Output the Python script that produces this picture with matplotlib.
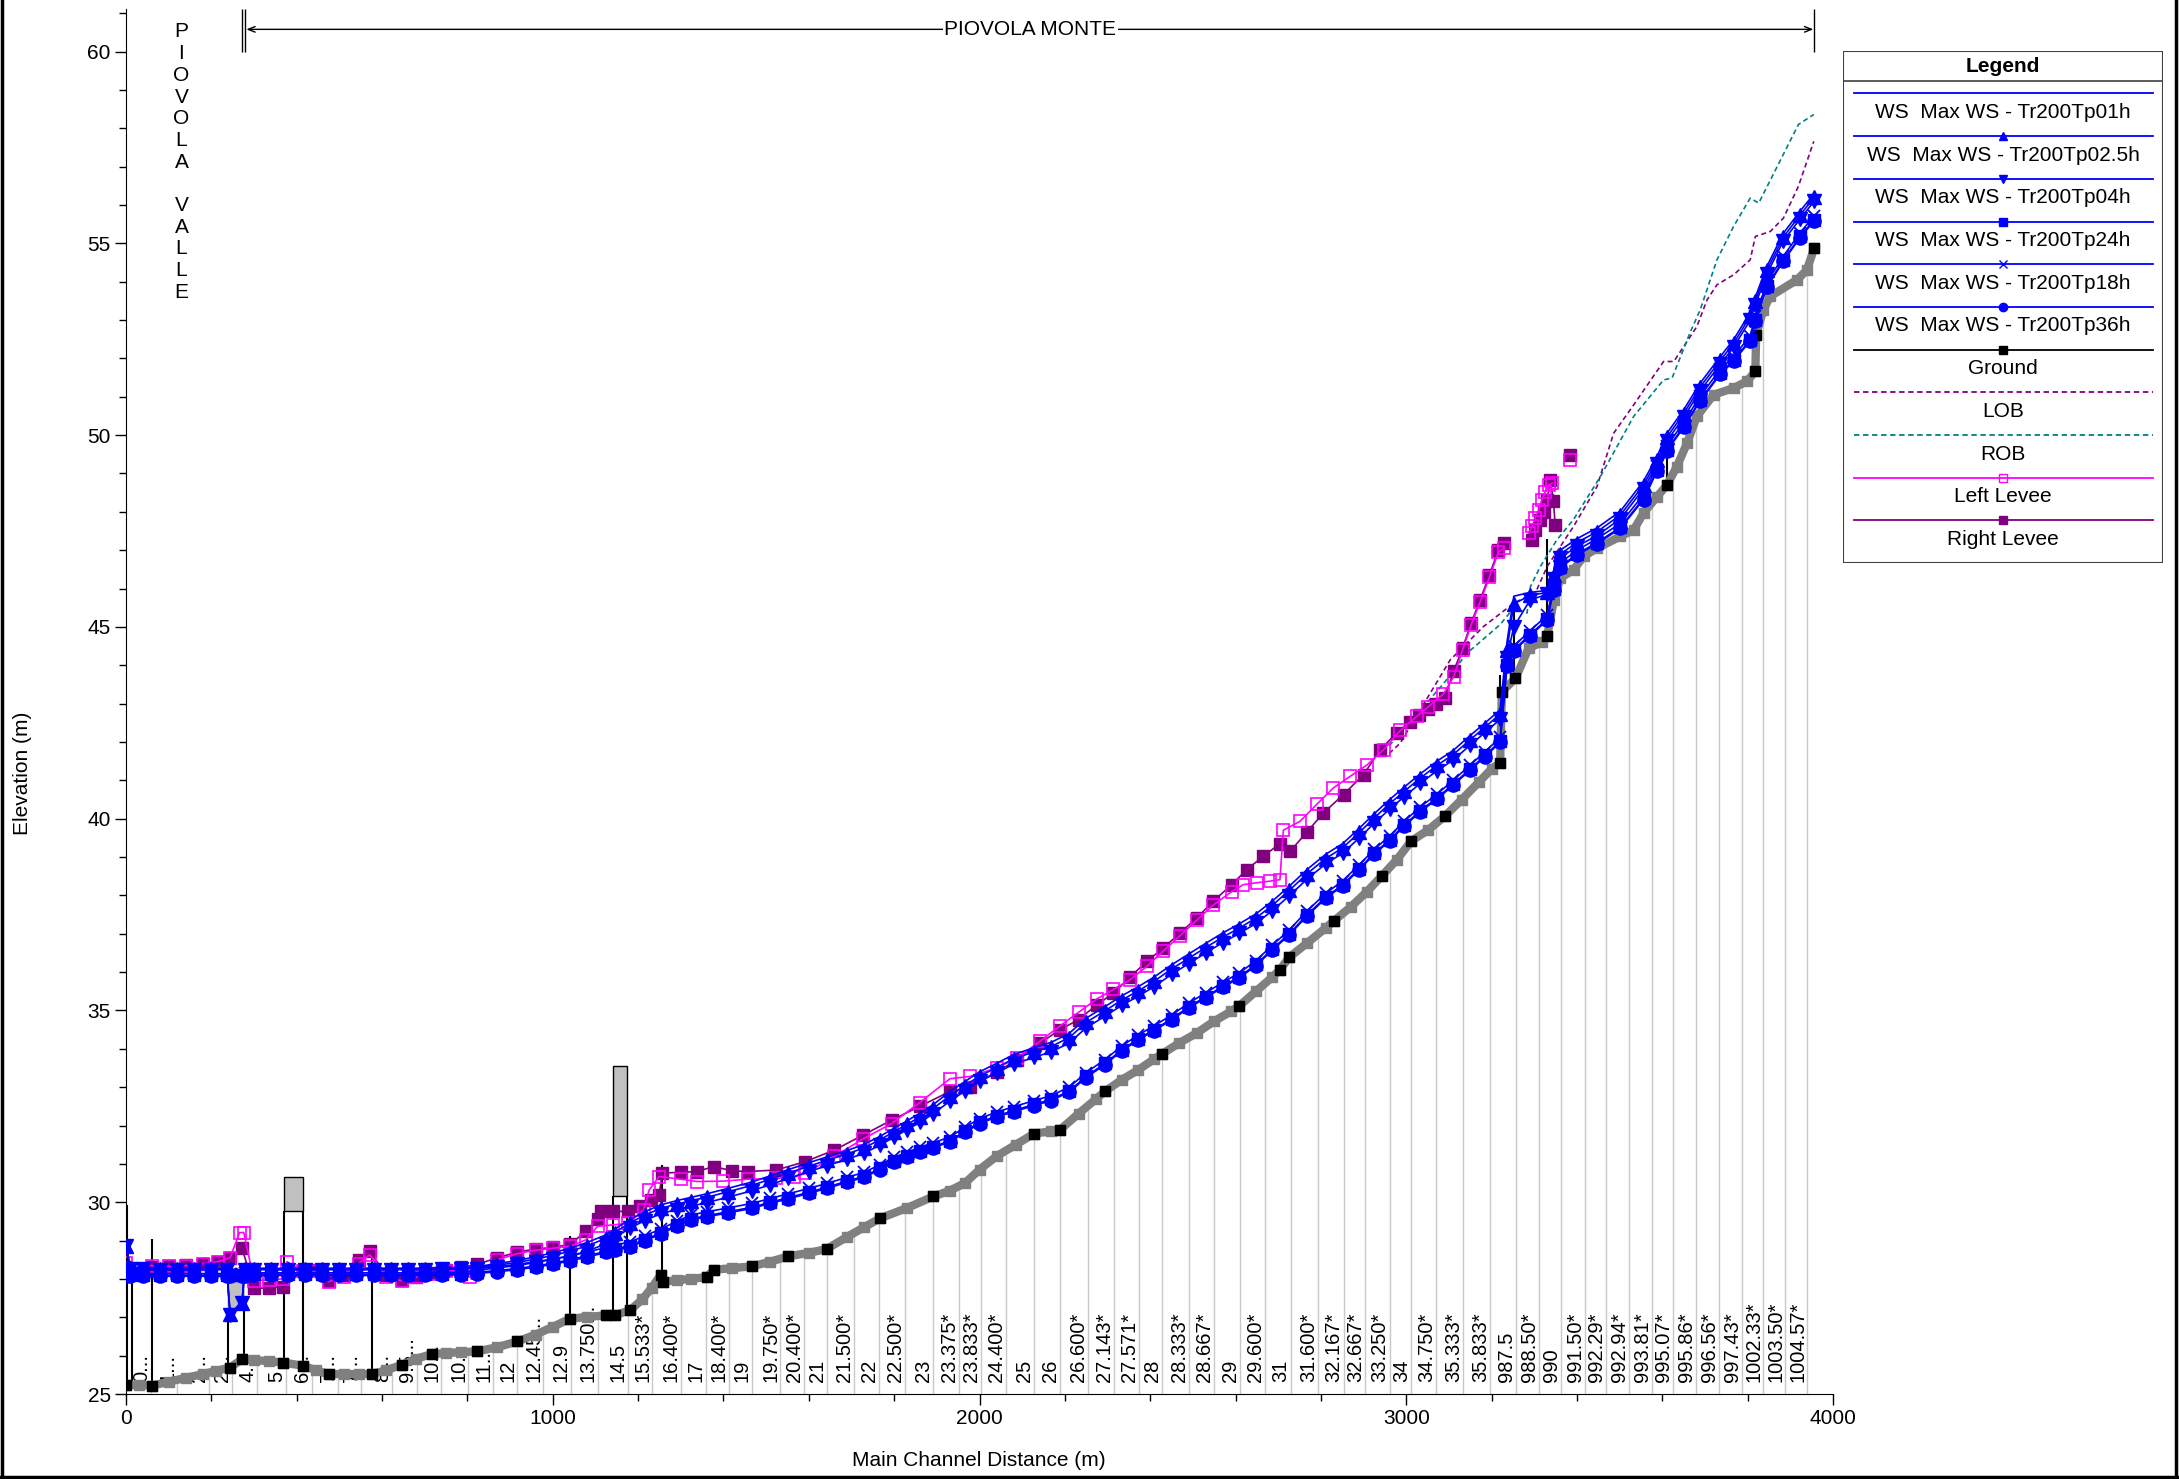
import numpy as np
import matplotlib.pyplot as plt
from matplotlib.patches import Rectangle
from matplotlib.lines import Line2D
from matplotlib.ticker import MultipleLocator

plt.rcParams['font.family'] = ['Liberation Sans', 'DejaVu Sans']

nan = np.nan

# ---- river stations shown under the profile ----
xs_names = ["0...", "1...", "2...", "2...", "4...", "5", "6...", "7...", "7...", "8...",
            "9.5...", "10...", "10...", "11...", "12", "12.45...", "12.9", "13.750...", "14.5", "15.533*",
            "16.400*", "17", "18.400*", "19", "19.750*", "20.400*", "21", "21.500*", "22", "22.500*",
            "23", "23.375*", "23.833*", "24.400*", "25", "26", "26.600*", "27.143*", "27.571*", "28",
            "28.333*", "28.667*", "29", "29.600*", "31", "31.600*", "32.167*", "32.667*", "33.250*", "34",
            "34.750*", "35.333*", "35.833*", "987.5", "988.50*", "990", "991.50*", "992.29*", "992.94*", "993.81*",
            "995.07*", "995.86*", "996.56*", "997.43*", "1002.33*", "1003.50*", "1004.57*"]
xs_pos = [59, 120, 194, 248, 308, 375, 436, 497, 550, 624,
          682, 739, 802, 860, 917, 978, 1042, 1105, 1176, 1233,
          1300, 1358, 1412, 1466, 1533, 1589, 1643, 1705, 1764, 1825,
          1892, 1952, 2003, 2063, 2128, 2188, 2254, 2315, 2373, 2427,
          2490, 2550, 2611, 2669, 2729, 2793, 2853, 2904, 2961, 3012,
          3070, 3133, 3197, 3257, 3311, 3362, 3419, 3468, 3522, 3576,
          3626, 3679, 3733, 3786, 3836, 3888, 3940]

# ---- ground (channel invert) ----
ground_x = [0, 30, 62, 100, 140, 180, 210, 244, 272, 300,
            335, 367, 414, 445, 475, 510, 545, 576, 610, 646,
            680, 717, 750, 785, 822, 870, 917, 960, 1000, 1040,
            1080, 1125, 1145, 1182, 1210, 1232, 1253, 1258, 1290, 1325,
            1361, 1377, 1420, 1467, 1510, 1552, 1600, 1642, 1690, 1730,
            1767, 1830, 1892, 1930, 1966, 2000, 2040, 2085, 2128, 2168,
            2189, 2232, 2273, 2294, 2333, 2372, 2409, 2427, 2468, 2509,
            2550, 2590, 2609, 2648, 2686, 2704, 2726, 2768, 2811, 2831,
            2871, 2908, 2943, 2978, 3011, 3052, 3090, 3130, 3170, 3200,
            3220, 3224, 3256, 3287, 3318, 3330, 3346, 3361, 3392, 3416,
            3447, 3502, 3533, 3556, 3588, 3611, 3634, 3658, 3681, 3720,
            3767, 3798, 3818, 3820, 3837, 3853, 3916, 3939, 3956]
ground_y = [25.23, 25.24, 25.22, 25.32, 25.42, 25.52, 25.60, 25.69, 25.91, 25.88,
            25.86, 25.82, 25.74, 25.62, 25.52, 25.52, 25.52, 25.52, 25.62, 25.76,
            25.92, 26.04, 26.07, 26.09, 26.11, 26.22, 26.37, 26.55, 26.75, 26.96,
            27.01, 27.05, 27.05, 27.19, 27.47, 27.77, 28.11, 27.92, 27.97, 28.00,
            28.05, 28.24, 28.28, 28.33, 28.45, 28.59, 28.68, 28.78, 29.10, 29.35,
            29.58, 29.85, 30.15, 30.30, 30.50, 30.85, 31.20, 31.50, 31.79, 31.85,
            31.89, 32.31, 32.69, 32.89, 33.19, 33.45, 33.73, 33.86, 34.15, 34.41,
            34.72, 34.98, 35.12, 35.50, 35.87, 36.06, 36.39, 36.76, 37.15, 37.34,
            37.71, 38.10, 38.51, 38.93, 39.41, 39.71, 40.06, 40.50, 40.95, 41.30,
            41.45, 43.31, 43.66, 44.45, 44.60, 44.75, 45.70, 46.27, 46.49, 46.84,
            47.05, 47.36, 47.53, 47.97, 48.40, 48.70, 49.18, 49.79, 50.49, 51.05,
            51.23, 51.40, 51.66, 52.62, 53.27, 53.62, 54.05, 54.31, 54.88]
ground_b = [1, 0, 1, 0, 0, 0, 0, 1, 1, 0,
            0, 1, 1, 0, 1, 0, 0, 1, 0, 1,
            0, 1, 0, 0, 1, 0, 1, 0, 0, 1,
            0, 1, 1, 1, 0, 0, 1, 1, 0, 0,
            1, 1, 0, 1, 0, 1, 0, 1, 0, 0,
            1, 0, 1, 0, 0, 0, 0, 0, 1, 0,
            1, 0, 0, 1, 0, 0, 0, 1, 0, 0,
            0, 0, 1, 0, 0, 1, 1, 0, 0, 1,
            0, 0, 1, 0, 1, 0, 1, 0, 0, 0,
            1, 1, 1, 0, 0, 1, 0, 0, 0, 0,
            0, 0, 0, 0, 0, 1, 0, 0, 0, 0,
            0, 0, 1, 1, 0, 0, 0, 0, 1]

# ---- water surface profiles ----
ws_x = [0, 10, 40, 80, 120, 160, 200, 236, 244, 272,
        278, 300, 340, 380, 420, 460, 500, 540, 580, 620,
        660, 700, 740, 785, 822, 870, 917, 960, 1000, 1040,
        1080, 1125, 1145, 1182, 1215, 1253, 1290, 1325, 1361, 1410,
        1467, 1510, 1552, 1600, 1642, 1690, 1730, 1767, 1800, 1830,
        1860, 1892, 1930, 1966, 2000, 2040, 2080, 2128, 2168, 2210,
        2250, 2294, 2333, 2372, 2409, 2450, 2490, 2530, 2570, 2609,
        2648, 2686, 2726, 2768, 2811, 2851, 2890, 2925, 2961, 2995,
        3033, 3072, 3110, 3150, 3185, 3220, 3236, 3252, 3290, 3330,
        3346, 3361, 3400, 3447, 3502, 3556, 3588, 3611, 3650, 3689,
        3736, 3767, 3806, 3818, 3845, 3884, 3923, 3956]
ws_tp01 = [28.90, 28.30, 28.29, 28.28, 28.28, 28.28, 28.28, 28.28, 27.10, 27.40,
           28.28, 28.28, 28.28, 28.27, 28.28, 28.28, 28.28, 28.28, 28.28, 28.28,
           28.28, 28.28, 28.29, 28.30, 28.32, 28.40, 28.48, 28.58, 28.68, 28.80,
           28.95, 29.15, 29.30, 29.56, 29.75, 29.93, 30.04, 30.13, 30.22, 30.36,
           30.53, 30.69, 30.85, 31.03, 31.18, 31.35, 31.51, 31.72, 31.93, 32.12,
           32.32, 32.55, 32.88, 33.15, 33.40, 33.62, 33.85, 34.03, 34.17, 34.40,
           34.80, 35.10, 35.38, 35.62, 35.87, 36.19, 36.47, 36.75, 37.02, 37.26,
           37.52, 37.85, 38.24, 38.68, 39.07, 39.35, 39.75, 40.13, 40.50, 40.82,
           41.17, 41.50, 41.78, 42.17, 42.50, 42.84, 44.60, 45.80, 45.90, 45.95,
           46.45, 47.00, 47.30, 47.58, 48.02, 48.80, 49.45, 50.05, 50.66, 51.36,
           52.05, 52.49, 53.20, 53.60, 54.40, 55.27, 55.84, 56.30]
ws_tp025 = [28.87, 28.28, 28.27, 28.26, 28.26, 28.26, 28.26, 28.26, 27.08, 27.38,
            28.26, 28.26, 28.26, 28.25, 28.26, 28.26, 28.26, 28.26, 28.26, 28.26,
            28.26, 28.26, 28.27, 28.28, 28.29, 28.36, 28.43, 28.52, 28.61, 28.72,
            28.86, 29.06, 29.21, 29.47, 29.66, 29.84, 29.95, 30.04, 30.13, 30.27,
            30.44, 30.60, 30.76, 30.94, 31.09, 31.26, 31.42, 31.63, 31.84, 32.03,
            32.22, 32.45, 32.77, 33.04, 33.29, 33.51, 33.74, 33.92, 34.06, 34.29,
            34.69, 34.99, 35.27, 35.51, 35.76, 36.08, 36.36, 36.64, 36.91, 37.15,
            37.41, 37.74, 38.13, 38.57, 38.96, 39.24, 39.64, 40.02, 40.39, 40.71,
            41.06, 41.39, 41.67, 42.06, 42.39, 42.73, 44.40, 45.60, 45.82, 45.90,
            46.35, 46.90, 47.20, 47.48, 47.92, 48.70, 49.35, 49.95, 50.56, 51.26,
            51.95, 52.39, 53.10, 53.50, 54.30, 55.17, 55.74, 56.20]
ws_tp04 = [28.85, 28.26, 28.25, 28.24, 28.24, 28.24, 28.24, 28.24, 27.06, 27.36,
           28.24, 28.24, 28.24, 28.23, 28.24, 28.24, 28.24, 28.24, 28.24, 28.24,
           28.24, 28.24, 28.25, 28.26, 28.27, 28.32, 28.38, 28.45, 28.52, 28.60,
           28.72, 28.92, 29.07, 29.33, 29.52, 29.70, 29.81, 29.90, 29.99, 30.13,
           30.30, 30.46, 30.62, 30.80, 30.95, 31.12, 31.28, 31.49, 31.70, 31.89,
           32.08, 32.31, 32.63, 32.90, 33.15, 33.37, 33.60, 33.78, 33.92, 34.15,
           34.55, 34.85, 35.13, 35.37, 35.62, 35.94, 36.22, 36.50, 36.77, 37.01,
           37.27, 37.60, 37.99, 38.43, 38.82, 39.10, 39.50, 39.88, 40.25, 40.57,
           40.92, 41.25, 41.53, 41.92, 42.25, 42.59, 44.20, 45.00, 45.70, 45.85,
           46.25, 46.80, 47.10, 47.38, 47.82, 48.60, 49.25, 49.85, 50.46, 51.16,
           51.85, 52.29, 53.00, 53.40, 54.20, 55.07, 55.64, 56.10]
ws_tp24 = [28.10, 28.10, 28.10, 28.10, 28.10, 28.10, 28.10, 28.10, 28.10, 28.10,
           28.11, 28.12, 28.12, 28.12, 28.12, 28.12, 28.12, 28.12, 28.12, 28.12,
           28.12, 28.12, 28.13, 28.14, 28.17, 28.22, 28.27, 28.34, 28.41, 28.50,
           28.60, 28.72, 28.78, 28.87, 29.02, 29.20, 29.40, 29.57, 29.65, 29.75,
           29.87, 30.00, 30.12, 30.26, 30.39, 30.55, 30.68, 30.88, 31.07, 31.20,
           31.33, 31.45, 31.60, 31.85, 32.08, 32.25, 32.39, 32.55, 32.68, 32.90,
           33.28, 33.62, 33.97, 34.26, 34.50, 34.78, 35.09, 35.36, 35.63, 35.88,
           36.20, 36.60, 37.00, 37.50, 37.95, 38.28, 38.70, 39.10, 39.45, 39.83,
           40.21, 40.54, 40.90, 41.30, 41.65, 42.02, 44.00, 44.40, 44.80, 45.20,
           46.00, 46.57, 46.90, 47.20, 47.60, 48.35, 49.10, 49.62, 50.23, 50.92,
           51.62, 51.95, 52.49, 53.00, 53.88, 54.57, 55.18, 55.62]
ws_tp18 = [28.14, 28.14, 28.14, 28.14, 28.14, 28.14, 28.14, 28.14, 28.14, 28.14,
           28.15, 28.16, 28.16, 28.16, 28.16, 28.16, 28.16, 28.16, 28.16, 28.16,
           28.16, 28.16, 28.17, 28.18, 28.22, 28.29, 28.35, 28.43, 28.51, 28.60,
           28.70, 28.82, 28.88, 28.97, 29.12, 29.30, 29.50, 29.67, 29.75, 29.85,
           29.97, 30.10, 30.22, 30.36, 30.49, 30.65, 30.78, 30.98, 31.17, 31.30,
           31.43, 31.55, 31.70, 31.95, 32.18, 32.35, 32.49, 32.65, 32.78, 33.00,
           33.38, 33.72, 34.07, 34.36, 34.60, 34.88, 35.19, 35.46, 35.73, 35.98,
           36.30, 36.70, 37.10, 37.60, 38.05, 38.38, 38.80, 39.20, 39.55, 39.93,
           40.31, 40.64, 41.00, 41.40, 41.75, 42.12, 44.10, 44.50, 44.90, 45.30,
           46.10, 46.67, 47.00, 47.30, 47.70, 48.45, 49.20, 49.72, 50.33, 51.02,
           51.72, 52.05, 52.59, 53.10, 53.98, 54.67, 55.28, 55.72]
ws_tp36 = [28.07, 28.07, 28.07, 28.07, 28.07, 28.07, 28.07, 28.07, 28.07, 28.07,
           28.08, 28.09, 28.09, 28.09, 28.09, 28.09, 28.09, 28.09, 28.09, 28.09,
           28.09, 28.09, 28.10, 28.11, 28.14, 28.19, 28.24, 28.31, 28.38, 28.47,
           28.57, 28.69, 28.75, 28.84, 28.99, 29.17, 29.37, 29.54, 29.62, 29.72,
           29.84, 29.97, 30.09, 30.23, 30.36, 30.52, 30.65, 30.85, 31.04, 31.17,
           31.30, 31.42, 31.57, 31.82, 32.05, 32.22, 32.36, 32.52, 32.65, 32.87,
           33.25, 33.59, 33.94, 34.23, 34.47, 34.75, 35.06, 35.33, 35.60, 35.85,
           36.17, 36.57, 36.97, 37.47, 37.92, 38.25, 38.67, 39.07, 39.42, 39.80,
           40.18, 40.51, 40.87, 41.27, 41.62, 41.99, 43.97, 44.37, 44.77, 45.17,
           45.97, 46.54, 46.87, 47.17, 47.57, 48.32, 49.07, 49.59, 50.20, 50.89,
           51.59, 51.92, 52.46, 52.97, 53.85, 54.54, 55.15, 55.59]

# ---- levees ----
rl_x = [0, 62, 100, 140, 180, 215, 244, 272, 300, 335,
        367, 414, 445, 475, 510, 545, 571, 610, 646, 680,
        717, 750, 785, 822, 870, 917, 960, 1000, 1040, 1078,
        1105, 1114, 1141, 1177, 1204, 1231, 1249, 1257, 1300, 1338,
        1377, 1420, 1457, 1524, 1592, 1660, 1727, 1794, 1860, 1931,
        1978, 2040, 2087, 2142, 2189, 2232, 2275, 2314, 2353, 2392,
        2431, 2470, 2509, 2548, 2591, 2626, 2665, 2704, 2728, 2767,
        2806, 2853, 2900, 2939, 2978, 3009, 3029, 3050, 3070, 3090,
        3111, 3132, 3152, 3173, 3195, 3216, 3228, nan, 3295, 3302,
        3314, 3322, 3330, 3338, 3345, 3349, nan, 3384]
rl_y = [28.30, 28.30, 28.33, 28.36, 28.40, 28.45, 28.55, 28.80, 27.76, 27.76,
        27.80, 28.20, 28.22, 27.95, 28.10, 28.50, 28.72, 28.10, 27.98, 28.06,
        28.15, 28.22, 28.30, 28.38, 28.55, 28.70, 28.78, 28.82, 28.90, 29.24,
        29.55, 29.76, 29.76, 29.76, 29.89, 30.06, 30.19, 30.76, 30.78, 30.80,
        30.93, 30.82, 30.80, 30.84, 31.06, 31.36, 31.75, 32.14, 32.50, 32.89,
        33.00, 33.40, 33.70, 34.15, 34.50, 34.76, 35.15, 35.45, 35.87, 36.28,
        36.63, 37.02, 37.41, 37.85, 38.28, 38.67, 39.02, 39.35, 39.15, 39.65,
        40.15, 40.63, 41.15, 41.80, 42.24, 42.53, 42.70, 42.85, 43.00, 43.14,
        43.84, 44.45, 45.10, 45.70, 46.36, 47.01, 47.20, nan, 47.27, 47.53,
        47.80, 48.00, 48.30, 48.83, 48.27, 47.66, nan, 49.49]
ll_x = [0, 62, 100, 140, 180, 215, 244, 266, 276, 300,
        335, 367, 377, 414, 445, 475, 510, 545, 571, 610,
        646, 680, 717, 750, 785, 805, 822, 870, 917, 960,
        1000, 1040, 1078, 1105, 1141, 1177, 1213, 1226, 1249, 1300,
        1338, 1400, 1457, 1524, 1565, 1592, 1660, 1727, 1794, 1860,
        1931, 1978, 2040, 2087, 2142, 2189, 2232, 2275, 2314, 2353,
        2392, 2431, 2470, 2509, 2548, 2591, 2618, 2650, 2680, 2704,
        2712, 2751, 2790, 2829, 2868, 2908, 2947, 2986, 3025, 3050,
        3087, 3111, 3132, 3152, 3173, 3195, 3216, 3228, nan, 3287,
        3295, 3302, 3310, 3318, 3326, 3334, 3342, nan, 3384]
ll_y = [28.42, 28.35, 28.33, 28.35, 28.40, 28.45, 28.55, 29.21, 29.21, 27.95,
        27.98, 28.00, 28.45, 28.20, 28.20, 27.93, 28.05, 28.40, 28.63, 28.05,
        27.95, 28.05, 28.12, 28.20, 28.25, 28.05, 28.15, 28.50, 28.66, 28.75,
        28.80, 28.85, 29.02, 29.37, 29.41, 29.45, 29.80, 30.32, 30.67, 30.60,
        30.54, 30.55, 30.60, 30.62, 30.65, 30.75, 31.20, 31.65, 32.05, 32.60,
        33.22, 33.28, 33.50, 33.75, 34.20, 34.60, 34.95, 35.30, 35.55, 35.80,
        36.15, 36.55, 36.95, 37.35, 37.75, 38.10, 38.28, 38.33, 38.37, 38.41,
        39.70, 39.93, 40.37, 40.80, 41.10, 41.40, 41.80, 42.30, 42.67, 42.90,
        43.25, 43.70, 44.40, 45.05, 45.65, 46.30, 46.95, 47.05, nan, 47.45,
        47.62, 47.84, 48.05, 48.31, 48.53, 48.70, 48.75, nan, 49.36]

# ---- bank stations ----
lob_x = [2960, 2986, 3103, 3181, 3252, 3300, 3306, 3330, 3392, 3447, 3486, 3533,
         3603, 3627, 3681, 3705, 3728, 3767, 3806, 3818, 3853, 3884, 3919, 3955]
lob_y = [41.70, 41.97, 44.14, 45.01, 45.62, 45.88, 45.97, 46.57, 47.62, 48.66, 50.05, 50.79,
         51.92, 51.92, 52.83, 53.53, 53.92, 54.18, 54.57, 55.18, 55.31, 55.66, 56.49, 57.66]
rob_x = [2960, 2986, 3088, 3142, 3220, 3252, 3283, 3291, 3314, 3353, 3392, 3455,
         3533, 3603, 3623, 3666, 3689, 3728, 3767, 3806, 3826, 3919, 3955]
rob_y = [41.90, 42.23, 43.53, 44.31, 45.06, 45.50, 45.36, 46.05, 46.57, 47.27, 47.80, 48.92,
         50.49, 51.44, 51.49, 52.70, 53.27, 54.57, 55.44, 56.18, 56.05, 58.10, 58.36]

# ---- structures (bridges / weirs) ----
struct_x = [3, 13, 62, 238, 276, 370, 414, 576, 1040, 1141, 1175, 1256, 3220, 3252, 3330, 3611]
struct_top = [29.93, 28.30, 29.05, 27.10, 27.40, 29.76, 29.76, 28.72, 29.12, 30.17, 30.20, 30.98,
              43.75, 45.70, 47.30, 49.57]
deck_x0 = [370, 1141]
deck_x1 = [414, 1175]
deck_lo = [29.76, 30.17]
deck_hi = [30.67, 33.55]
dip_x = [238, 276]
dip_top = [28.25, 28.15]
dip_bot = [27.10, 27.40]

blue = '#0000ff'
purple = '#800080'
magenta = '#ff00ff'
teal = '#008080'

fig = plt.figure(figsize=(21.79, 14.79), dpi=100)
ax = fig.add_axes([126/2179, 1 - 1394/1479, 1707/2179, 1384.6/1479])
ax.set_xlim(0, 4000)
ax.set_ylim(25, 61.1)

# station lines and names
gtop = np.interp(xs_pos, ground_x, ground_y)
ax.vlines(xs_pos, 25, gtop, color='#c8c8c8', lw=1, zorder=1)
for name, xp in zip(xs_names, xs_pos):
    ax.text(xp, 25.3, name, rotation=90, ha='right', va='bottom', fontsize=14.5, zorder=2)

# structures
sbot = np.interp(struct_x, ground_x, ground_y)
ax.vlines(struct_x, sbot, struct_top, color='black', lw=1.5, zorder=4)
for x0, x1, lo, hi in zip(deck_x0, deck_x1, deck_lo, deck_hi):
    ax.add_patch(Rectangle((x0, lo), x1 - x0, hi - lo, fc='#c0c0c0', ec='black', lw=1, zorder=4))
ax.fill_between(dip_x, dip_bot, dip_top, color='#c0c0c0', zorder=4)

# ground
gb = np.array(ground_b) == 1
ax.plot(ground_x, ground_y, color='#808080', lw=6, zorder=5)
ax.plot(ground_x, ground_y, ls='none', marker='s', ms=7.5, color='#808080', zorder=5)
ax.plot(np.array(ground_x)[gb], np.array(ground_y)[gb], ls='none', marker='s', ms=7.5,
        color='black', zorder=6)

# banks and levees
ax.plot(lob_x, lob_y, color=purple, ls=(0, (3, 2)), lw=1.2, zorder=6)
ax.plot(rob_x, rob_y, color=teal, ls=(0, (3, 2)), lw=1.2, zorder=6)
ax.plot(rl_x, rl_y, color=purple, lw=1.2, marker='s', ms=8, zorder=7)
ax.plot(ll_x, ll_y, color=magenta, lw=1.2, marker='s', ms=8, mfc='none', mec=magenta,
        mew=1.2, zorder=7)

# water surfaces
ax.plot(ws_x, ws_tp24, color=blue, lw=1.2, marker='s', ms=8.5, zorder=8)
ax.plot(ws_x, ws_tp36, color=blue, lw=1.2, marker='o', ms=9.5, zorder=8)
ax.plot(ws_x, ws_tp18, color=blue, lw=1.2, marker='x', ms=9, mew=1.3, zorder=8)
ax.plot(ws_x, ws_tp04, color=blue, lw=1.2, marker='v', ms=9.5, zorder=9)
ax.plot(ws_x, ws_tp025, color=blue, lw=1.2, marker='^', ms=9.5, zorder=9)
ax.plot(ws_x, ws_tp01, color=blue, lw=1.2, zorder=9)

# reach annotations
ax.text(130, 60.76, 'P\nI\nO\nV\nO\nL\nA\n \nV\nA\nL\nL\nE', ha='center', va='top',
        fontsize=15, linespacing=1.18)
ax.vlines([272, 279, 3956], 60.0, 61.1, color='black', lw=1)
ax.annotate('', xy=(282, 60.58), xytext=(3954, 60.58),
            arrowprops=dict(arrowstyle='<->,head_length=0.5,head_width=0.2', color='black',
                            lw=1, shrinkA=0, shrinkB=0))
ax.text(2119, 60.58, 'PIOVOLA MONTE', ha='center', va='center', fontsize=15,
        bbox=dict(fc='white', ec='none', pad=1), zorder=10)

# axes styling
ax.set_xticks([0, 1000, 2000, 3000, 4000])
ax.set_yticks([25, 30, 35, 40, 45, 50, 55, 60])
ax.xaxis.set_minor_locator(MultipleLocator(200))
ax.yaxis.set_minor_locator(MultipleLocator(1))
ax.tick_params(which='major', length=8, width=1, labelsize=15, direction='out', pad=3)
ax.tick_params(which='minor', length=5, width=1, direction='out')
ax.spines['top'].set_visible(False)
ax.spines['right'].set_visible(False)
fig.text(23/2179, 1 - 773/1479, 'Elevation (m)', rotation=90, ha='center', va='center', fontsize=15)
fig.text(979/2179, 1 - 1460/1479, 'Main Channel Distance (m)', ha='center', va='center', fontsize=15)

# legend box
leg_names = ['WS  Max WS - Tr200Tp01h', 'WS  Max WS - Tr200Tp02.5h', 'WS  Max WS - Tr200Tp04h',
             'WS  Max WS - Tr200Tp24h', 'WS  Max WS - Tr200Tp18h', 'WS  Max WS - Tr200Tp36h',
             'Ground', 'LOB', 'ROB', 'Left Levee', 'Right Levee']
leg_colors = [blue, blue, blue, blue, blue, blue, 'black', purple, teal, magenta, purple]
leg_styles = ['-', '-', '-', '-', '-', '-', '-', (0, (3, 2)), (0, (3, 2)), '-', '-']
leg_markers = ['', '^', 'v', 's', 'x', 'o', 's', '', '', 's', 's']

lax = fig.add_axes([1843/2179, 1 - 563/1479, 320/2179, 512/1479])
lax.set_xlim(0, 320)
lax.set_ylim(512, 0)
lax.axis('off')
lax.add_patch(Rectangle((0, 0), 320, 512, fill=False, ec='#404040', lw=1.5))
lax.plot([0, 320], [29.6, 29.6], color='#404040', lw=1.2)
lax.text(160, 15, 'Legend', ha='center', va='center', fontsize=15, fontweight='bold')
for i, name in enumerate(leg_names):
    ly = 42.4 + i * 42.7
    lax.plot([11, 310], [ly, ly], color=leg_colors[i], ls=leg_styles[i], lw=1.3)
    if leg_markers[i]:
        mfc = 'none' if name == 'Left Levee' else leg_colors[i]
        lax.plot([160], [ly], marker=leg_markers[i], ms=6, color=leg_colors[i], mfc=mfc)
    lax.text(160, ly + 19, name, ha='center', va='center', fontsize=15)

# outer frame
for xs, ys in [([0.0008, 0.0008], [0, 1]), ([0.9986, 0.9986], [0, 1]), ([0, 1], [0.0012, 0.0012])]:
    fig.add_artist(Line2D(xs, ys, transform=fig.transFigure, color='black', lw=2.5))

fig.savefig('out.png', dpi=100)
